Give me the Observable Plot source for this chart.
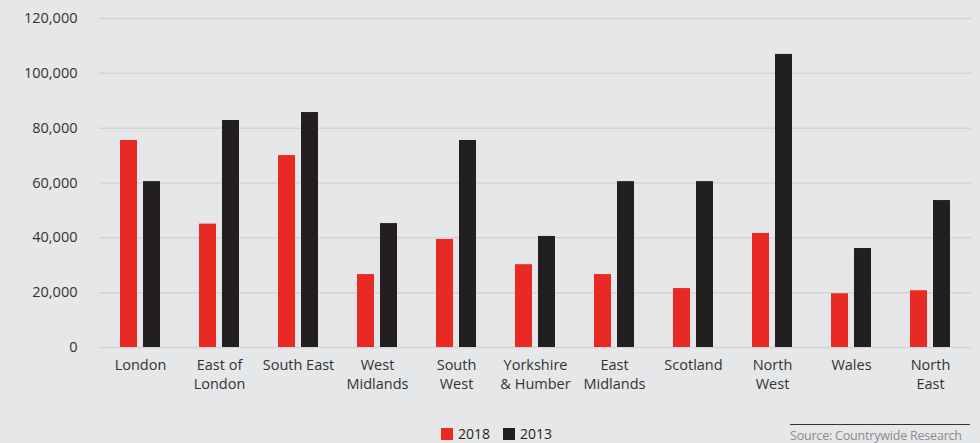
<!DOCTYPE html>
<html>
<head>
<meta charset="utf-8">
<script src="https://cdn.jsdelivr.net/npm/d3@7"></script>
<script src="https://cdn.jsdelivr.net/npm/@observablehq/plot@0.6"></script>
<style>
  html, body { margin: 0; padding: 0; background: #e6e7e9; }
  #wrap { position: relative; width: 980px; height: 443px; background: #e6e7e9; font-family: "Open Sans", sans-serif; overflow: hidden; }
  .leg { position: absolute; top: 424px; font-size: 14px; color: #231f20; display: flex; align-items: center; }
  .sw { width: 12px; height: 12px; display: inline-block; margin-right: 5px; }
  #source { position: absolute; left: 790px; top: 424px; width: 180px; border-top: 1.5px solid #333; font-size: 12.5px; color: #8a8b8d; padding-top: 2px; white-space: nowrap; letter-spacing: -0.2px; }
</style>
</head>
<body>
<div id="wrap"></div>
<script>
const regions = ["London", "East of London", "South East", "West Midlands", "South West", "Yorkshire & Humber", "East Midlands", "Scotland", "North West", "Wales", "North East"];
const regionLabels = ["London", "East of\nLondon", "South East", "West\nMidlands", "South\nWest", "Yorkshire\n& Humber", "East\nMidlands", "Scotland", "North\nWest", "Wales", "North\nEast"];
const values2018 = [75500, 45000, 70000, 26600, 39400, 30200, 26600, 21500, 41600, 19600, 20700];
const values2013 = [60500, 82800, 85700, 45200, 75500, 40500, 60500, 60500, 106900, 36100, 53600];
const yTicks = [0, 20000, 40000, 60000, 80000, 100000, 120000];
const seriesNames = ["2018", "2013"];
const seriesColors = ["#e92a24", "#231f20"];

const rows2018 = regions.map((r, i) => ({region: r, year: "2018", value: values2018[i]}));
const rows2013 = regions.map((r, i) => ({region: r, year: "2013", value: values2013[i]}));
const labelOf = new Map(regions.map((r, i) => [r, regionLabels[i]]));

const chart = Plot.plot({
  width: 980,
  height: 410,
  marginLeft: 99,
  marginRight: 9,
  marginTop: 18,
  marginBottom: 63,
  style: {background: "#e6e7e9", fontFamily: "Open Sans, sans-serif", fontSize: "14.5px", color: "#333"},
  x: {domain: regions, paddingInner: 0.495, paddingOuter: 0.2475, align: 0.5},
  y: {domain: [0, 120000]},
  color: {domain: seriesNames, range: seriesColors},
  marks: [
    Plot.gridY(yTicks, {stroke: "#d3d4d7", strokeOpacity: 1, strokeWidth: 1.5}),
    Plot.barY(rows2018, {x: "region", y: "value", fill: "year", insetLeft: 0, insetRight: 23}),
    Plot.barY(rows2013, {x: "region", y: "value", fill: "year", insetLeft: 23, insetRight: 0}),
    Plot.axisY({ticks: yTicks, tickSize: 0, tickPadding: 22, tickFormat: d3.format(","), label: null, fill: "#333", fontSize: 14.5}),
    Plot.axisX({tickSize: 0, tickPadding: 9, tickFormat: d => labelOf.get(d), label: null, lineHeight: 1.3, fill: "#333", fontSize: 14.5})
  ]
});

const wrap = document.getElementById("wrap");
wrap.appendChild(chart);

const legPos = [441, 503];
seriesNames.forEach((name, i) => {
  const d = document.createElement("div");
  d.className = "leg";
  d.style.left = legPos[i] + "px";
  const sw = document.createElement("span");
  sw.className = "sw";
  sw.style.background = seriesColors[i];
  d.appendChild(sw);
  d.appendChild(document.createTextNode(name));
  wrap.appendChild(d);
});
const src = document.createElement("div");
src.id = "source";
src.textContent = "Source: Countrywide Research";
wrap.appendChild(src);
</script>
</body>
</html>
